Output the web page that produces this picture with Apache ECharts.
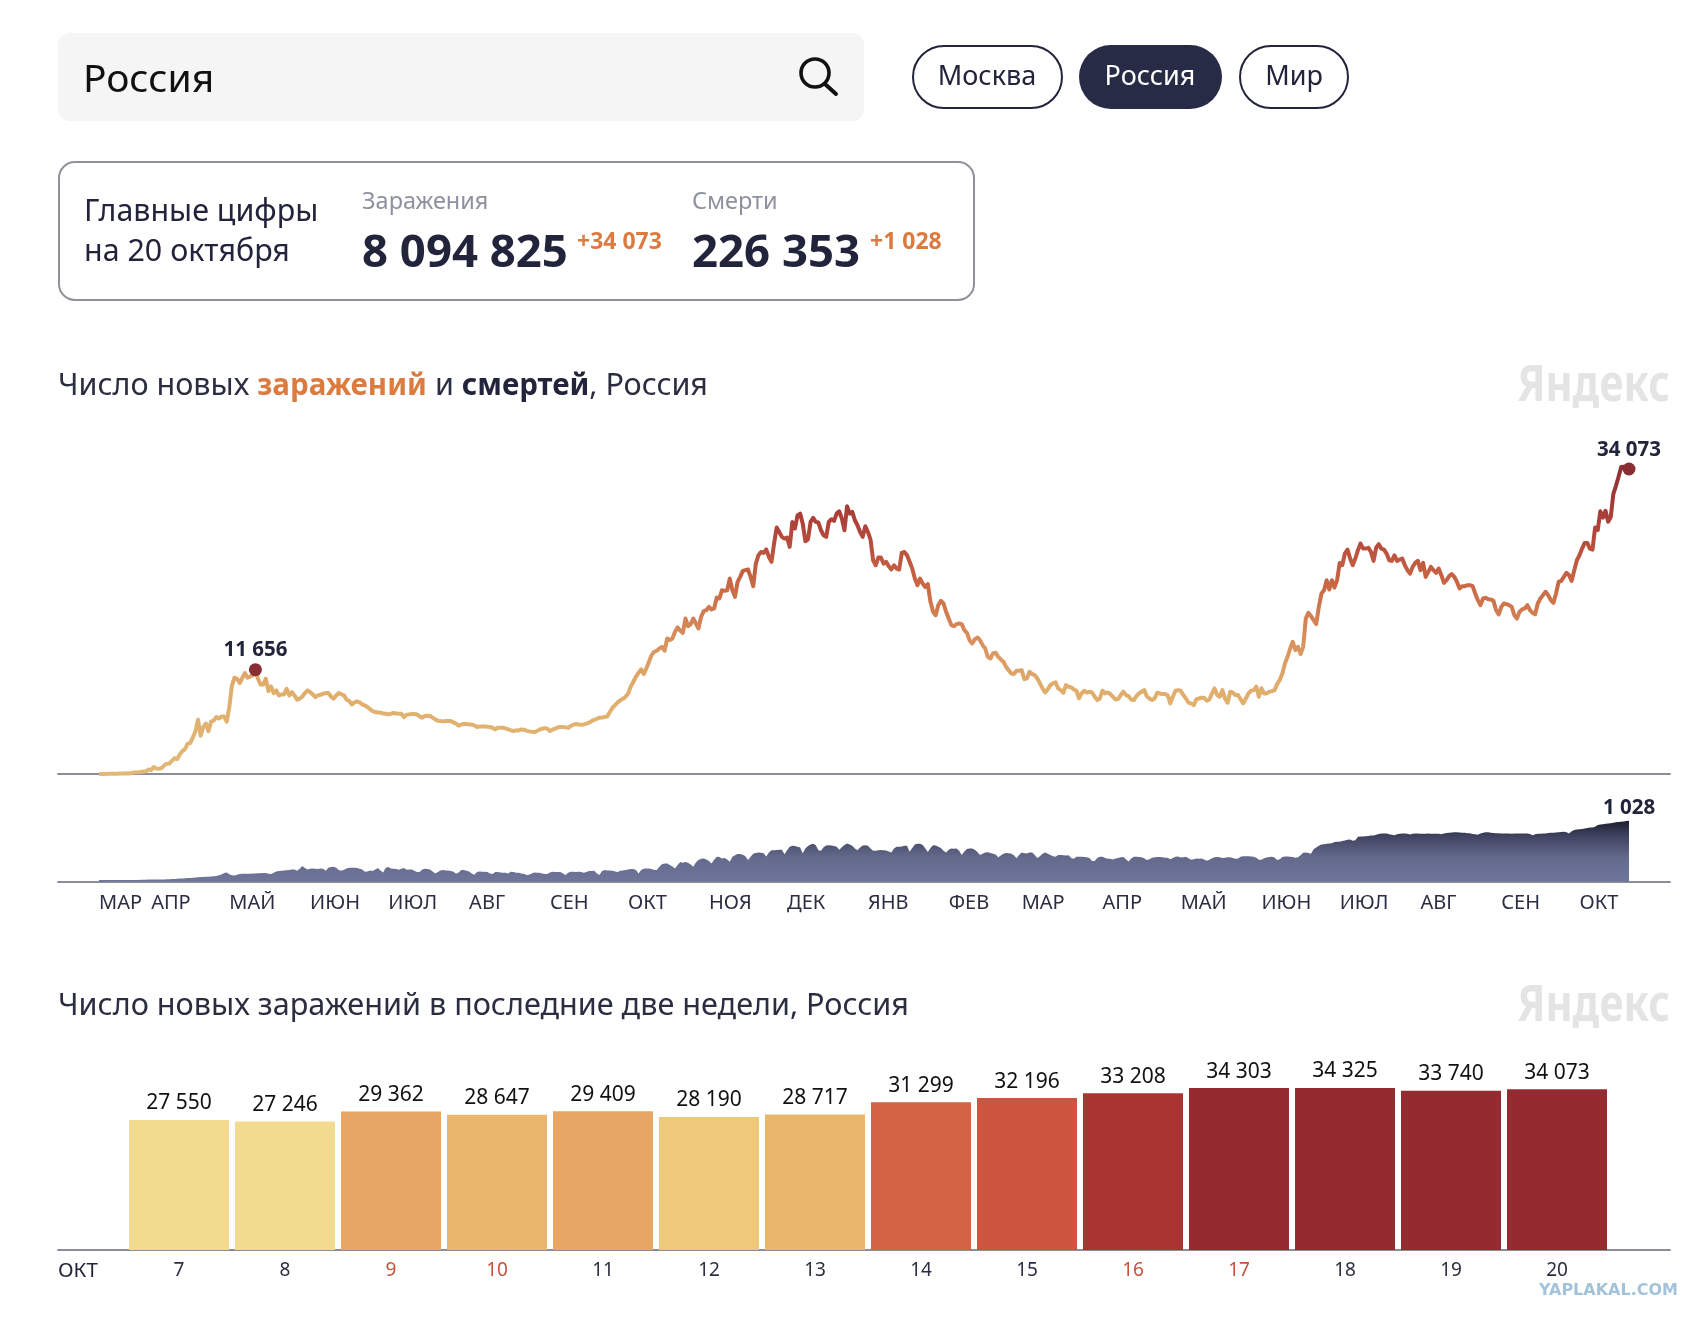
<!DOCTYPE html>
<html lang="ru"><head><meta charset="utf-8"><title>Число новых заражений и смертей, Россия</title>
<style>html,body{margin:0;padding:0;background:#fff}#c{width:1704px;height:1318px}</style>
<script src="https://cdn.jsdelivr.net/npm/echarts@6/dist/echarts.min.js"></script></head><body><div id="c"></div>
<script>
// Daily new infections, one list per month (starts 12 March 2020)
const casesMar20=[6,14,4,14,30,20,33,39,52,53,54,71,57,163,182,196,228,270,302,501];
const casesApr20=[440,771,601,582,658,954,1154,1175,1459,1786,1667,2186,2558,2774,3388,3448,4070,4785,6060,4268,5236,5642,4774,5849,5966,6361,6198,6411,6411,5841];
const casesMay20=[7480,9900,10750,10640,10160,10750,11270,10750,10900,11010,11656,10640,10000,10000,10640,9260,9780,9040,9340,8780,8890,8890,9520,8780,9150,8780,8300,8410,8670,9040,9340];
const casesJun20=[9150,8890,8590,8780,8850,8970,9040,9040,8670,8410,8780,9040,8890,8780,8300,8150,7770,8000,8110,8000,7770,7660,7480,7250,7030,6920,6880,6840,6770,6730];
const casesJul20=[6660,6730,6810,6770,6730,6730,6360,6620,6660,6700,6700,6660,6440,6290,6480,6510,6480,6290,6100,5950,5910,5880,5910,5910,5910,5770,5620,5390,5540,5580,5580];
const casesAug20=[5540,5540,5430,5250,5320,5320,5320,5280,5250,5170,4980,5170,5170,5170,5100,4980,4870,4800,4870,4870,4980,4950,4840,4760,4720,4690,4800,4950,5060,5130,5060];
const casesSep20=[4800,4950,5060,5210,5250,5250,5210,5170,5360,5510,5580,5540,5510,5540,5620,5730,5910,6060,6170,6290,6320,6360,6440,6920,7400,7700,8000,8220,8400,8630];
const casesOct20=[9000,9750,10300,10860,11300,11680,11160,11800,12540,13280,13650,13770,14020,14200,13770,15140,14950,15140,15880,16370,16000,15770,17370,16510,16740,17370,16810,16260,17560,18190,18300];
const casesNov20=[18670,18380,18490,19720,19600,20530,20460,20530,21830,20530,19790,21460,22020,22690,22770,22840,22020,20980,23510,24440,24810,24700,25100,24250,23700,25740,27530,27040,26490,26300];
const casesDec20=[26410,25370,28160,27420,28900,29090,27970,26000,26190,28160,28610,28160,28090,27230,26670,26490,28160,28460,28270,29090,29350,28530,27230,29910,29090,29280,28350,27790,27040,26490,27680];
const casesJan21=[27040,26190,23880,23320,24180,24180,23510,23700,23210,22840,23320,22950,22840,24700,24810,24440,23700,22950,21830,21090,21830,21280,20900,21200,19230,18120,17740,18860,19340,19050,18120];
const casesFeb21=[17370,16630,16510,16740,16810,16740,16070,15770,14950,14580,15030,15250,14950,14400,14020,13090,12900,13470,13540,13090,12800,12540,11980,11600,11230,11160,11530,11530];
const casesMar21=[11600,10600,10680,11420,11160,11050,10680,10120,9560,9110,9450,9930,10120,10230,9560,9370,9080,9930,9750,9670,9450,9300,8440,9000,9300,9110,9190,9110,8630,8260,8440];
const casesApr21=[9300,9000,9110,8930,8630,8330,8370,8820,9190,8820,8700,8330,8260,8700,9000,9190,9370,8700,8440,8260,8440,9080,9000,8930,8930,8820,7890,8630,9300,9370];
const casesMay21=[9300,8820,8440,7960,7890,7700,8330,8440,8520,8520,8180,8330,9000,9560,8820,8630,9370,8440,7960,9190,9080,8820,8820,8330,7890,8440,9000,9300,9370,9750,8630];
const casesJun21=[9560,9000,9000,9190,9260,9370,10040,10490,11230,12350,13090,14020,14770,13840,14210,13390,14210,17370,18000,17630,17190,16740,18670,20160,20530,21650,20610,21650,20830,21650];
const casesJul21=[23580,23320,24630,25070,24070,23320,24070,25000,25740,25180,25180,25260,24810,23810,25300,25670,25180,25070,24630,23880,23810,24440,23810,23960,24070,23320,22770,22390,23140,23580,23810];
const casesAug21=[22770,23580,22020,22580,23140,22770,22470,22950,22210,21350,21650,22100,22320,22020,21460,20720,20980,20980,21090,21090,20980,20160,19420,18860,19600,19680,19530,19490,19340,18300,17820];
const casesSep21=[18670,19050,18970,18860,18670,17740,17370,18120,18380,18490,18860,18300,18000,17860,19050,19600,19980,20350,19980,19420,19120,20160,21460,21580,22020,22470,22210,21580,22770,23880];
const casesOct21=[24440,25180,25820,25820,25180,25070,27550,27246,29362,28647,29409,28190,28717,31299,32196,33208,34303,34325,33740,34073];

// Daily deaths, one list per month
const deathsMar20=[28,28,28,28,28,28,28,28,28,29,29,29,29,30,30,30,31,32,33,35];
const deathsApr20=[36,37,37,38,38,39,40,42,44,46,50,53,56,60,62,64,66,70,75,78,80,82,84,86,90,96,108,120,145,155];
const deathsMay20=[125,110,106,118,128,134,134,136,136,138,140,142,144,146,146,135,129,150,170,180,185,190,195,198,205,207,185,218,263,230,207];
const deathsJun20=[218,224,218,213,224,218,185,235,246,252,235,196,185,202,224,235,235,235,230,218,207,168,174,190,179,207,230,190,157,235];
const deathsJul20=[246,224,218,213,202,218,230,202,207,207,185,162,162,207,218,213,207,174,140,162,190,196,190,190,179,168,134,157,196,196,185];
const deathsAug20=[174,140,118,162,174,168,168,162,140,129,162,162,157,151,151,140,168,162,151,151,140,134,112,118,140,157,151,151,140,129,129];
const deathsSep20=[157,168,162,162,162,140,112,151,168,168,162,168,162,151,162,179,179,185,140,112,179,196,190,190,185,174,162,185,190,196];
const deathsOct20=[207,213,213,196,140,196,218,224,224,213,196,196,252,296,308,308,280,258,224,280,330,320,330,320,291,252,325,364,386,392,375];
const deathsNov20=[350,308,370,420,415,392,400,375,336,420,445,465,465,455,430,364,420,470,485,490,487,480,425,490,530,530,535,540,540,462];
const deathsDec20=[530,590,605,600,590,575,480,560,600,625,640,615,530,520,580,610,615,610,600,590,540,580,620,644,625,605,560,530,575,610,615];
const deathsJan21=[605,560,520,520,530,535,530,525,510,490,560,590,590,595,605,605,505,570,625,640,640,620,565,500,570,615,610,590,570,520,490];
const deathsFeb21=[540,560,555,560,520,450,510,550,560,560,540,500,450,470,490,495,485,470,460,410,440,470,485,480,470,445,395,450];
const deathsMar21=[490,480,475,490,490,450,400,430,470,490,470,450,430,420,450,450,445,440,445,400,385,420,420,420,415,410,400,350,350,400,420];
const deathsApr21=[420,400,385,385,375,390,400,410,415,380,340,390,420,420,415,410,395,365,380,405,410,415,415,410,405,405,380,400,420,425];
const deathsMay21=[408,414,420,395,370,380,392,386,392,375,355,370,395,410,415,410,398,404,410,410,398,385,392,420,431,431,431,425,420,405,372];
const deathsJun21=[372,395,409,415,420,409,365,380,415,425,425,420,415,405,410,445,487,490,485,470,545,577,605,625,633,640,644,650,668,672];
const deathsJul21=[672,685,695,705,711,690,700,756,760,760,765,770,778,778,790,805,812,812,812,800,790,784,800,808,812,812,808,795,810,812,812];
const deathsAug21=[808,808,808,812,810,808,808,808,800,812,820,825,830,834,834,830,825,825,815,815,805,800,790,812,825,834,834,825,820,815,815];
const deathsSep21=[812,812,812,812,810,812,812,812,812,812,812,805,784,800,806,806,812,812,820,825,825,828,832,836,840,835,812,850,870,879];
const deathsOct21=[885,890,895,905,913,913,925,955,963,968,975,980,986,995,1002,1006,1010,1015,1022,1028];

// Last two weeks
const barDays=['7','8','9','10','11','12','13','14','15','16','17','18','19','20'];
const barValues=[27550,27246,29362,28647,29409,28190,28717,31299,32196,33208,34303,34325,33740,34073];
const barColors=['#F2DB8E','#F2DB8E','#E5A763','#E9B66E','#E5A763','#EEC97C','#E9B66E','#D46344','#CC5640','#A93532','#932B30','#932B30','#932B30','#932B30'];
const redDays=['9','10','16','17'];
const monthLabels=['ЯНВ','ФЕВ','МАР','АПР','МАЙ','ИЮН','ИЮЛ','АВГ','СЕН','ОКТ','НОЯ','ДЕК'];

const cases=[].concat(casesMar20,casesApr20,casesMay20,casesJun20,casesJul20,casesAug20,casesSep20,casesOct20,casesNov20,casesDec20,casesJan21,casesFeb21,casesMar21,casesApr21,casesMay21,casesJun21,casesJul21,casesAug21,casesSep21,casesOct21);
const deaths=[].concat(deathsMar20,deathsApr20,deathsMay20,deathsJun20,deathsJul20,deathsAug20,deathsSep20,deathsOct20,deathsNov20,deathsDec20,deathsJan21,deathsFeb21,deathsMar21,deathsApr21,deathsMay21,deathsJun21,deathsJul21,deathsAug21,deathsSep21,deathsOct21);
const startMs=Date.UTC(2020,2,12);
const days=cases.map((_,i)=>new Date(startMs+i*864e5).toISOString().slice(0,10));
const peakIndex=days.indexOf('2020-05-11');
const lastIndex=days.length-1;
const spaced=v=>String(v).replace(/\B(?=(\d{3})+$)/g,' ');

const F='"Noto Sans",sans-serif', INK='#21243A', ORANGE='#DC7B3F', GRAY='#8E91A0';
const txt=(text,x,y,font,fill,align)=>({type:'text',x,y,style:{text,font:font+' '+F,fill,textAlign:align||'left',textVerticalAlign:'middle'}});
const rect=(x,y,w,h,r,fill,stroke)=>({type:'rect',shape:{x,y,width:w,height:h,r},style:{fill,stroke:stroke||null,lineWidth:stroke?2:0}});
const logo=(y)=>({type:'text',x:1670,y,scaleX:.83,style:{text:'Яндекс',font:'bold 50px '+F,fill:'#E4E4E4',textAlign:'right',textVerticalAlign:'middle'}});

const graphic=[
 rect(58,33,806,88,12,'#F5F5F5'),
 txt('Россия',83,81,'39px','#111'),
 {type:'circle',shape:{cx:815,cy:73,r:14},style:{fill:'none',stroke:'#111',lineWidth:3.6}},
 {type:'line',shape:{x1:825,y1:84,x2:836,y2:94},style:{stroke:'#111',lineWidth:4,lineCap:'round'}},
 rect(913,46,149,62,31,'#fff',INK), txt('Москва',987,77,'27px',INK,'center'),
 rect(1079,45,143,64,32,'#282B45'), txt('Россия',1150,77,'27px','#fff','center'),
 rect(1240,46,108,62,31,'#fff',INK), txt('Мир',1294,77,'27px',INK,'center'),
 rect(59,162,915,138,16,'#fff','#8F919B'),
 txt('Главные цифры',84,212,'30.4px',INK), txt('на 20 октября',84,252,'30.4px',INK),
 txt('Заражения',362,202,'23.5px',GRAY), txt('Смерти',692,202,'23.5px',GRAY),
 txt('8 094 825',362,254,'bold 45.5px',INK), txt('226 353',692,254,'bold 45.5px',INK),
 txt('+34 073',577,242,'bold 23px',ORANGE), txt('+1 028',870,242,'bold 23px',ORANGE),
 logo(387), logo(1007),
 txt('ОКТ',58,1271,'20.5px',INK),
 {type:'text',x:1678,y:1291,style:{text:'YAPLAKAL.COM',font:'bold 16px "DejaVu Sans",sans-serif',fill:'#A3C3DA',textAlign:'right',textVerticalAlign:'middle'}}
];

const lineGrad=new echarts.graphic.LinearGradient(0,0,0,1,[
 {offset:0,color:'#8C2E33'},{offset:.2,color:'#B0433A'},{offset:.38,color:'#C96644'},{offset:.56,color:'#D98F5C'},{offset:.72,color:'#E0AE6C'},{offset:1,color:'#E2B875'}]);
const areaGrad=new echarts.graphic.LinearGradient(0,0,0,1,[
 {offset:0,color:'#1B1E30'},{offset:.25,color:'#3F4360'},{offset:.6,color:'#646A8C'},{offset:1,color:'#70769A'}]);
const baseAxis=i=>({gridIndex:i,type:'value',min:0,max:1,position:'bottom',axisLine:{show:true,onZero:false,lineStyle:{color:'#8B8D97',width:2}},axisTick:{show:false},axisLabel:{show:false},splitLine:{show:false}});
const hiddenY=(i,max)=>({gridIndex:i,type:'value',min:0,max,show:false});
const hiddenDays={type:'category',boundaryGap:false,data:days,axisLine:{show:false},axisTick:{show:false},axisLabel:{show:false}};
const bold={fontFamily:F,fontWeight:'bold',fontSize:20.5,color:INK};

const option={
 animation:false,backgroundColor:'#fff',
 title:[
  {left:53,top:366,text:'{t|Число новых }{o|заражений}{t| и }{d|смертей}{t|, Россия}',
   textStyle:{fontWeight:'normal',rich:{t:{fontFamily:F,fontSize:30.5,fontWeight:'normal',color:'#2B2E40'},o:{fontFamily:F,fontSize:29.5,fontWeight:'bold',color:ORANGE},d:{fontFamily:F,fontSize:29.5,fontWeight:'bold',color:INK}}}},
  {left:53,top:986,text:'Число новых заражений в последние две недели, Россия',textStyle:{fontFamily:F,fontSize:30.6,fontWeight:'normal',color:'#2B2E40'}}
 ],
 grid:[
  {left:99,width:1530,top:469,height:305},
  {left:99,width:1530,top:820.7,height:61},
  {left:126,width:1484,top:1088,height:162},
  {left:58,width:1612,top:673,height:101},
  {left:58,width:1612,top:781,height:101},
  {left:58,width:1612,top:1149,height:101}
 ],
 xAxis:[
  Object.assign({gridIndex:0},hiddenDays),
  Object.assign({gridIndex:1},hiddenDays,{axisLabel:{show:true,margin:12,align:'left',fontFamily:F,fontSize:20,color:'#2B2E40',
    interval:(i,v)=>i===0||v.endsWith('-01'),formatter:v=>monthLabels[+v.slice(5,7)-1]}}),
  {gridIndex:2,type:'category',data:barDays,axisLine:{show:false},axisTick:{show:false},
   axisLabel:{margin:11,interval:0,fontFamily:F,fontSize:19,color:v=>redDays.includes(v)?'#C8523C':'#2B2E40'}},
  baseAxis(3),baseAxis(4),baseAxis(5)
 ],
 yAxis:[hiddenY(0,34073),hiddenY(1,1028),hiddenY(2,34325),hiddenY(3,1),hiddenY(4,1),hiddenY(5,1)],
 series:[
  {type:'line',xAxisIndex:0,yAxisIndex:0,data:cases,showSymbol:false,silent:true,clip:false,z:3,
   lineStyle:{width:4,color:lineGrad,join:'round'},
   markPoint:{silent:true,animation:false,data:[
    {coord:[days[peakIndex],cases[peakIndex]],symbol:'circle',symbolSize:13,itemStyle:{color:'#8A2D33'},label:Object.assign({show:true,position:'top',distance:3,formatter:spaced(cases[peakIndex])},bold)},
    {coord:[days[lastIndex],cases[lastIndex]],symbol:'circle',symbolSize:13,itemStyle:{color:'#8A2D33'},label:Object.assign({show:true,position:'top',distance:2,formatter:spaced(cases[lastIndex])},bold)}]}},
  {type:'line',xAxisIndex:1,yAxisIndex:1,data:deaths,showSymbol:false,silent:true,clip:false,z:3,
   lineStyle:{width:0},areaStyle:{color:areaGrad,opacity:1},
   markPoint:{silent:true,animation:false,data:[{coord:[days[lastIndex],deaths[lastIndex]],symbol:'circle',symbolSize:1,itemStyle:{color:'transparent'},label:Object.assign({show:true,position:'top',distance:2,formatter:spaced(deaths[lastIndex])},bold)}]}},
  {type:'bar',xAxisIndex:2,yAxisIndex:2,barWidth:100,silent:true,z:3,
   data:barValues.map((v,i)=>({value:v,itemStyle:{color:barColors[i]}})),
   label:{show:true,position:'top',distance:6,fontFamily:F,fontSize:21,color:'#111',formatter:p=>spaced(p.value)}},
  // empty series tie the three baseline axes to their grids
  {type:'line',xAxisIndex:3,yAxisIndex:3,data:[],silent:true},
  {type:'line',xAxisIndex:4,yAxisIndex:4,data:[],silent:true},
  {type:'line',xAxisIndex:5,yAxisIndex:5,data:[],silent:true}
 ],
 graphic:{elements:graphic}
};
echarts.init(document.getElementById('c')).setOption(option);
</script></body></html>
